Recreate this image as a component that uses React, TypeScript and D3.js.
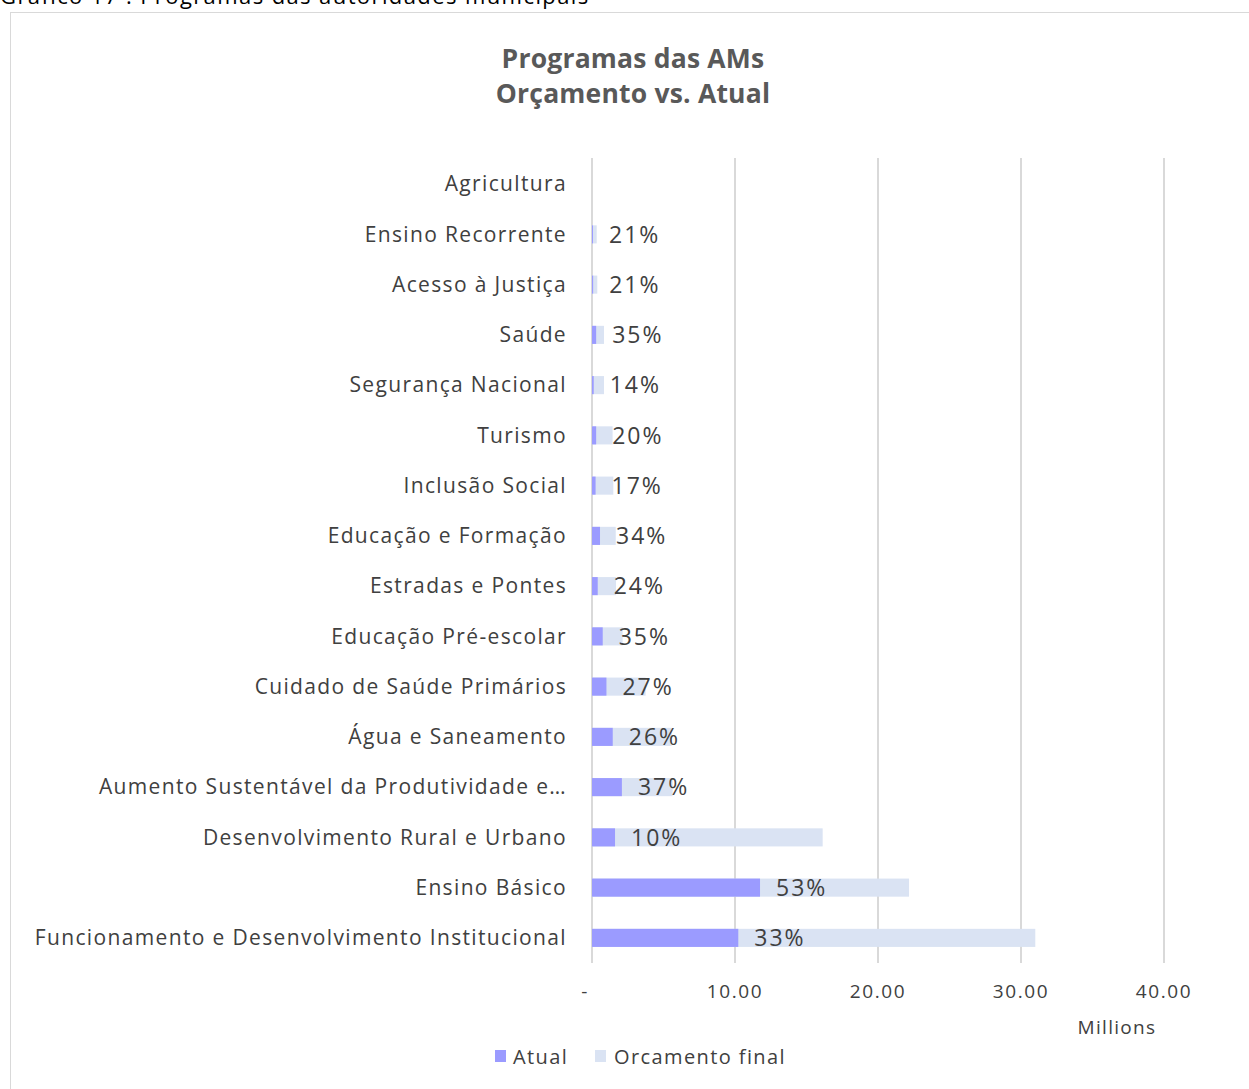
import React from "react";
import * as d3 from "d3";

const categories = [
  "Agricultura",
  "Ensino Recorrente",
  "Acesso à Justiça",
  "Saúde",
  "Segurança Nacional",
  "Turismo",
  "Inclusão Social",
  "Educação e Formação",
  "Estradas e Pontes",
  "Educação Pré-escolar",
  "Cuidado de Saúde Primários",
  "Água e Saneamento",
  "Aumento Sustentável da Produtividade e…",
  "Desenvolvimento Rural e Urbano",
  "Ensino Básico",
  "Funcionamento e Desenvolvimento Institucional",
];
const orcamentoFinal = [0, 0.33, 0.37, 0.84, 0.84, 1.44, 1.49, 1.66, 1.68, 2.14, 3.75, 5.57, 5.64, 16.13, 22.17, 31.0];
const atual = [0, 0.07, 0.08, 0.29, 0.12, 0.29, 0.25, 0.56, 0.4, 0.75, 1.01, 1.45, 2.09, 1.61, 11.75, 10.23];
const pctLabels = ["", "21%", "21%", "35%", "14%", "20%", "17%", "34%", "24%", "35%", "27%", "26%", "37%", "10%", "53%", "33%"];
const xTicks = [0, 10, 20, 30, 40];
const xTickLabels = ["-", "10.00", "20.00", "30.00", "40.00"];

const FONT = "'Open Sans', sans-serif";
const TEXT = "#404040";
const C_ATUAL = "#9B9BFF";
const C_ORC = "#DAE3F3";

export default function App() {
  const x = d3.scaleLinear().domain([0, 40]).range([592, 1164]);
  const y = d3.scaleBand().domain(categories).range([159, 963]).paddingInner(0.64).paddingOuter(0.32);
  const bh = y.bandwidth();
  return (
    <svg width={1249} height={1089} style={{ position: "absolute", left: 0, top: 0, background: "#fff" }}>
      <text x={0} y={4} fontFamily={FONT} fontSize={22} letterSpacing={1.4} fill="#000">Gráfico 17 : Programas das autoridades municipais</text>
      <rect x={10.5} y={12.5} width={1250} height={1090} fill="#fff" stroke="#d9d9d9" strokeWidth={1} />
      <text x={633} y={68} textAnchor="middle" fontFamily={FONT} fontWeight="bold" fontSize={26.5} letterSpacing={0.2} fill="#595959">Programas das AMs</text>
      <text x={633} y={103} textAnchor="middle" fontFamily={FONT} fontWeight="bold" fontSize={26.5} letterSpacing={0.2} fill="#595959">Orçamento vs. Atual</text>
      {xTicks.map((t) => (
        <line key={t} x1={x(t)} x2={x(t)} y1={158} y2={963} stroke="#d9d9d9" strokeWidth={2} />
      ))}
      {categories.map((c, i) => (
        <g key={c}>
          <rect x={x(0)} y={y(c)} width={x(orcamentoFinal[i]) - x(0)} height={bh} fill={C_ORC} />
          <rect x={x(0)} y={y(c)} width={x(atual[i]) - x(0)} height={bh} fill={C_ATUAL} />
          <text x={567} y={y(c)! + bh / 2} dy="0.35em" textAnchor="end" fontFamily={FONT} fontSize={21} letterSpacing={1.35} fill={TEXT}>{c}</text>
          {pctLabels[i] && (
            <text x={x(atual[i]) + 16} y={y(c)! + bh / 2} dy="0.36em" fontFamily={FONT} fontSize={23} letterSpacing={2} fill={TEXT}>{pctLabels[i]}</text>
          )}
        </g>
      ))}
      {xTicks.map((t, i) => (
        <text key={t} x={x(t) - (t === 0 ? 7 : 0)} y={998} textAnchor="middle" fontFamily={FONT} fontSize={19} letterSpacing={1.6} fill={TEXT}>{xTickLabels[i]}</text>
      ))}
      <text x={1117} y={1034} textAnchor="middle" fontFamily={FONT} fontSize={19} letterSpacing={1.3} fill={TEXT}>Millions</text>
      <rect x={495} y={1050} width={11} height={12} fill={C_ATUAL} />
      <text x={513} y={1064} fontFamily={FONT} fontSize={20} letterSpacing={1.4} fill={TEXT}>Atual</text>
      <rect x={595} y={1050} width={11} height={12} fill={C_ORC} />
      <text x={614} y={1064} fontFamily={FONT} fontSize={20} letterSpacing={1.4} fill={TEXT}>Orcamento final</text>
    </svg>
  );
}
